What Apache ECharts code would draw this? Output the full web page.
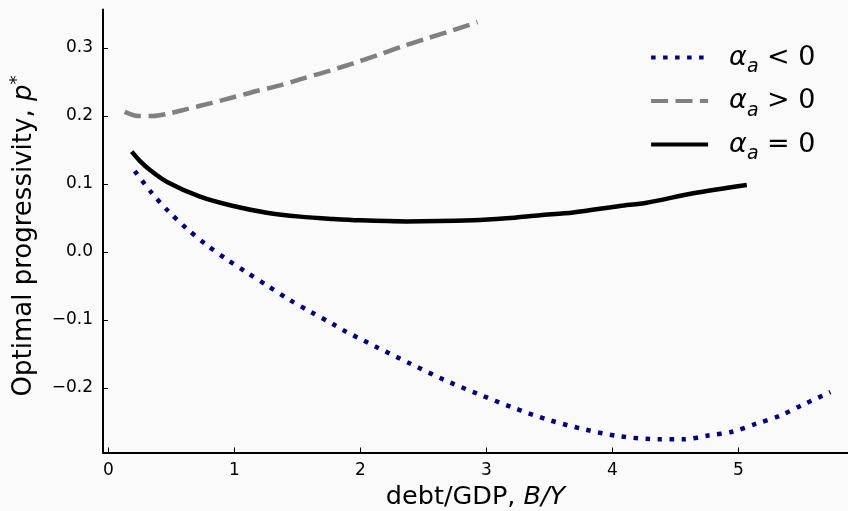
<!DOCTYPE html>
<html>
<head>
<meta charset="utf-8">
<script src="https://cdn.jsdelivr.net/npm/echarts/dist/echarts.min.js"></script>
<style>
html,body{margin:0;padding:0;background:#fafafa;}
#c{width:848px;height:511px;}
</style>
</head>
<body>
<div id="c"></div>
<script>
// ---- data ----
var negX = [0.21, 0.344, 0.476, 0.619, 0.775, 0.934, 1.098, 1.267, 1.434, 1.606, 1.781, 1.865, 2.13, 2.394, 2.664, 2.937, 3.212, 3.495, 3.781, 4.056, 4.368, 4.563, 4.76, 4.958, 5.143, 5.33, 5.508, 5.73];
var negY = [0.119, 0.087, 0.060, 0.035, 0.011, -0.010, -0.030, -0.050, -0.070, -0.088, -0.106, -0.115, -0.140, -0.164, -0.188, -0.209, -0.229, -0.247, -0.261, -0.271, -0.2755, -0.2755, -0.270, -0.264, -0.2525, -0.241, -0.225, -0.206];

var posX = [0.13, 0.238, 0.357, 0.463, 0.622, 0.807, 0.992, 1.178, 1.363, 1.548, 1.76, 1.944, 2.143, 2.328, 2.513, 2.698, 2.93];
var posY = [0.206, 0.200, 0.200, 0.203, 0.210, 0.2186, 0.2275, 0.2368, 0.245, 0.2554, 0.2667, 0.2775, 0.2897, 0.302, 0.3132, 0.324, 0.338];

var zeroX = [0.186, 0.25, 0.331, 0.463, 0.728, 0.992, 1.257, 1.521, 1.786, 2.0, 2.368, 2.897, 3.16, 3.426, 3.69, 4.06, 4.273, 4.643, 5.067];
var zeroY = [0.1475, 0.134, 0.1206, 0.1034, 0.0814, 0.0676, 0.0578, 0.052, 0.0485, 0.0465, 0.045, 0.0466, 0.0495, 0.054, 0.058, 0.0676, 0.0725, 0.0863, 0.0985];

var xTicks = [0, 1, 2, 3, 4, 5];
var yTicks = [-0.2, -0.1, 0.0, 0.1, 0.2, 0.3];

var seriesNames = ['neg', 'pos', 'zero'];
var legendLabels = {
  neg: '{al|α}{sub|a}{n| < 0}',
  pos: '{al|α}{sub|a}{n| > 0}',
  zero: '{al|α}{sub|a}{n| = 0}'
};

function zip(xs, ys) { return xs.map(function (x, i) { return [x, ys[i]]; }); }

var FONT = 'DejaVu Sans';
var chart = echarts.init(document.getElementById('c'));
chart.setOption({
  backgroundColor: '#fafafa',
  animation: false,
  grid: { left: 103, right: 0, top: 9.5, bottom: 58.5, containLabel: false, outerBoundsMode: 'none' },
  legend: {
    orient: 'vertical',
    left: 649,
    top: 38,
    padding: 0,
    itemWidth: 57,
    itemHeight: 14,
    itemGap: 4.5,
    itemStyle: { opacity: 0 },
    lineStyle: { width: 4.2 },
    formatter: function (name) { return legendLabels[name]; },
    textStyle: {
      fontFamily: FONT,
      fontSize: 27,
      color: '#000',
      padding: [0, 0, 0, 16],
      rich: {
        al: { fontFamily: FONT, fontStyle: 'italic', fontSize: 27, color: '#000', lineHeight: 30 },
        sub: { fontFamily: FONT, fontStyle: 'italic', fontSize: 19, color: '#000', padding: [20, 0, 0, 0], lineHeight: 30 },
        n: { fontFamily: FONT, fontSize: 27, color: '#000', lineHeight: 30 }
      }
    },
    data: seriesNames
  },
  xAxis: {
    type: 'value',
    min: -0.042,
    max: 5.87,
    splitLine: { show: false },
    axisLine: { onZero: false, lineStyle: { color: '#000', width: 2 } },
    axisTick: { inside: true, length: 5, lineStyle: { color: '#000', width: 1 }, customValues: xTicks },
    axisLabel: { fontFamily: FONT, fontSize: 17, color: '#000', margin: 10, customValues: xTicks,
      formatter: function (v) { return String(v); } },
    name: 'debt/GDP, {i|B}{i|/}{i|Y}',
    nameLocation: 'middle',
    nameGap: 30,
    nameTextStyle: {
      fontFamily: FONT, fontSize: 25.5, color: '#000',
      rich: { i: { fontFamily: FONT, fontSize: 25.5, fontStyle: 'italic', color: '#000' } }
    }
  },
  yAxis: {
    type: 'value',
    min: -0.2949,
    max: 0.3566,
    splitLine: { show: false },
    axisLine: { onZero: false, lineStyle: { color: '#000', width: 2 } },
    axisTick: { inside: true, length: 5, lineStyle: { color: '#000', width: 1 }, customValues: yTicks },
    axisLabel: { fontFamily: FONT, fontSize: 17, color: '#000', margin: 10, customValues: yTicks,
      formatter: function (v) { return v.toFixed(1).replace('-', '\u2212'); } },
    name: 'Optimal progressivity, {i|p}{sup|*}',
    nameLocation: 'middle',
    nameGap: 62,
    nameTextStyle: {
      fontFamily: FONT, fontSize: 26, color: '#000',
      padding: [0, 10, 0, 0],
      rich: {
        i: { fontFamily: FONT, fontSize: 26, fontStyle: 'italic', color: '#000' },
        sup: { fontFamily: FONT, fontSize: 18, color: '#000', padding: [0, 0, 15, 0] }
      }
    }
  },
  series: [
    { name: 'neg', type: 'line', data: zip(negX, negY), showSymbol: false, symbol: 'none',
      smooth: 0.3,
      lineStyle: { color: '#00008b', width: 4.5, type: [4.5, 7.5], cap: 'butt' }, itemStyle: { color: '#00008b' } },
    { name: 'pos', type: 'line', data: zip(posX, posY), showSymbol: false, symbol: 'none',
      smooth: 0.3,
      lineStyle: { color: '#808080', width: 4.5, type: [17, 7.4], cap: 'butt' }, itemStyle: { color: '#808080' } },
    { name: 'zero', type: 'line', data: zip(zeroX, zeroY), showSymbol: false, symbol: 'none',
      smooth: 0.3,
      lineStyle: { color: '#000', width: 4.5, type: 'solid' }, itemStyle: { color: '#000' } }
  ]
});
</script>
</body>
</html>
